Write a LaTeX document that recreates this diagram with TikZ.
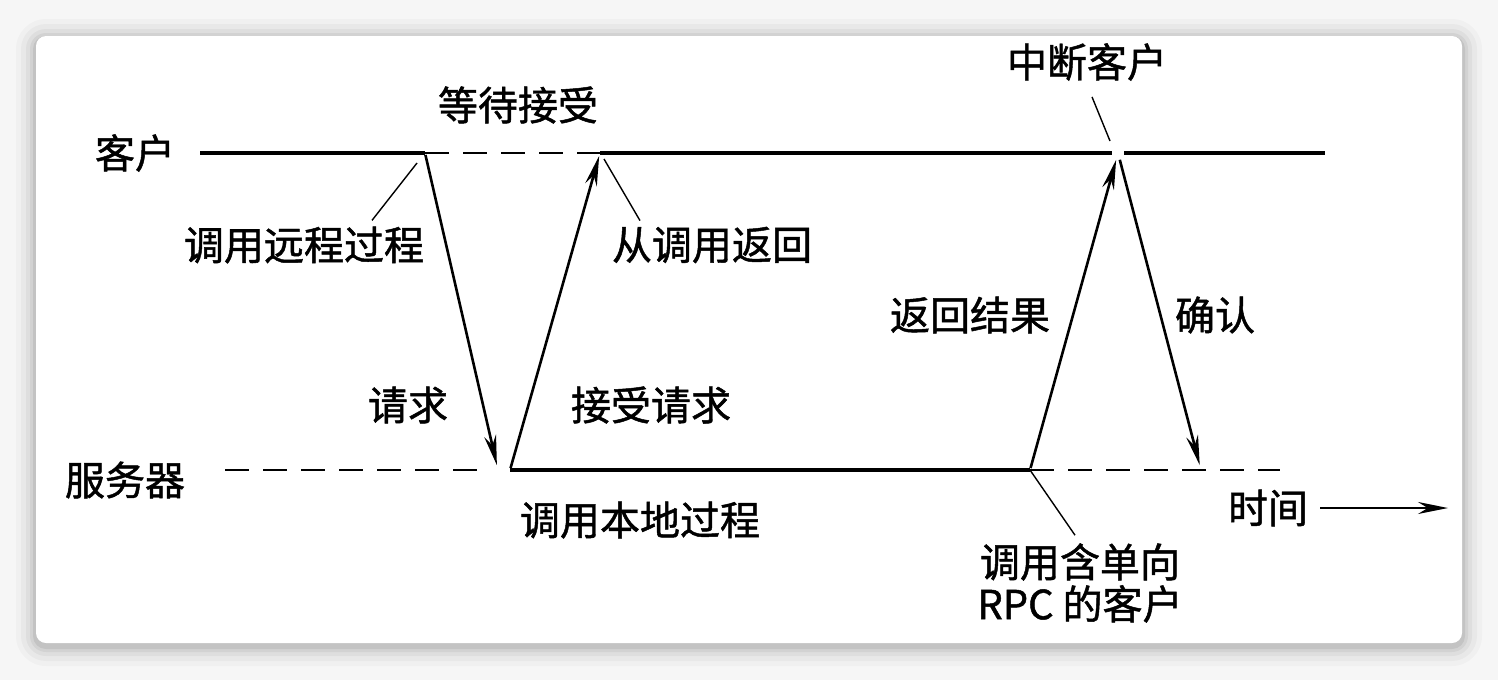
\documentclass[tikz,border=0pt]{standalone}
\usepackage{fontspec}
\newfontfamily\cjkfont[FakeBold=1.2]{Noto Sans CJK SC}
\usetikzlibrary{arrows.meta}
\definecolor{pagebg}{RGB}{246,246,246}

\begin{document}
\begin{tikzpicture}[x=1pt,y=-1pt,
    lbl/.style={font=\cjkfont\fontsize{40}{42}\selectfont, inner sep=0pt, align=center},
    timeline/.style={line width=3.6pt},
    waitline/.style={line width=2.2pt, dash pattern=on 24pt off 14pt},
    msg/.style={line width=2.6pt, -{Stealth[length=30pt,width=12pt]}},
    leader/.style={line width=1.4pt}]
  \useasboundingbox (0,0) rectangle (1498,680);
  \fill[pagebg] (0,0) rectangle (1498,680);
  \foreach \d/\r/\o in {20/30/0.025,15/25/0.03,10/20/0.04,6/16/0.05,3/13/0.07}
    \fill[black, opacity=\o, rounded corners=\r pt] (36-\d,36-\d+3) rectangle (1462+\d,643+\d+3);
  \fill[white, rounded corners=10pt] (36,36) rectangle (1462,643);

  \node[lbl] (client) at (135,153) {客户};
  \node[lbl] (server) at (125,480) {服务器};
  \node[lbl] (wait) at (518,105) {等待接受};
  \node[lbl] (intr) at (1087,62) {中断客户};
  \node[lbl] (callrp) at (304,245) {调用远程过程};
  \node[lbl] (fromcall) at (712,245) {从调用返回};
  \node[lbl] (req) at (408,405) {请求};
  \node[lbl] (accept) at (651,405) {接受请求};
  \node[lbl] (result) at (970,315) {返回结果};
  \node[lbl] (ack) at (1215,315) {确认};
  \node[lbl] (local) at (640,520) {调用本地过程};
  \node[lbl] (oneway) at (1080,583) {调用含单向\\RPC 的客户};
  \node[lbl] (time) at (1268,508) {时间};

  \coordinate (c0) at (200,153);
  \coordinate (c1) at (425,153);
  \coordinate (c2) at (600,153);
  \coordinate (c3) at (1112,153);
  \coordinate (cx) at (1118,153);
  \coordinate (c4) at (1124,153);
  \coordinate (c5) at (1325,153);
  \coordinate (s0) at (225,470);
  \coordinate (s1) at (490,470);
  \coordinate (s1t) at (498,470);
  \coordinate (s2) at (510,470);
  \coordinate (s3) at (1030,470);
  \coordinate (s4) at (1280,470);
  \coordinate (s5) at (1201,470);
  \coordinate (tend) at (1448,508);

  \draw[timeline] (c0) -- (c1);
  \draw[waitline] (c1) -- (c2);
  \draw[timeline] (c2) -- (c3);
  \draw[timeline] (c4) -- (c5);
  \draw[waitline] (s0) -- (s1);
  \draw[timeline] (s2) -- (s3);
  \draw[waitline] (s3) -- (s4);

  \draw[msg, shorten <=2pt, shorten >=5pt] (c1) -- (s1t);
  \draw[msg, shorten <=2pt, shorten >=3pt] (s2) -- (c2);
  \draw[msg, shorten <=2pt, shorten >=7pt] (s3) -- (cx);
  \draw[msg, shorten <=7pt, shorten >=5pt] (cx) -- (s5);

  \draw[leader] ([shift={(-8,10)}]c1) -- ([xshift=68pt,yshift=6pt]callrp.north);
  \draw[leader] ([shift={(4,6)}]c2) -- ([xshift=-72pt,yshift=6pt]fromcall.north);
  \draw[leader] ([xshift=5pt,yshift=-16pt]intr.south) -- ([shift={(-8,-12)}]cx);
  \draw[leader] (s3) -- ([xshift=-5pt,yshift=8pt]oneway.north);

  \draw[line width=2pt, -{Stealth[length=30pt,width=12pt]}] ([xshift=12pt]time.east) -- (tend);
\end{tikzpicture}
\end{document}
